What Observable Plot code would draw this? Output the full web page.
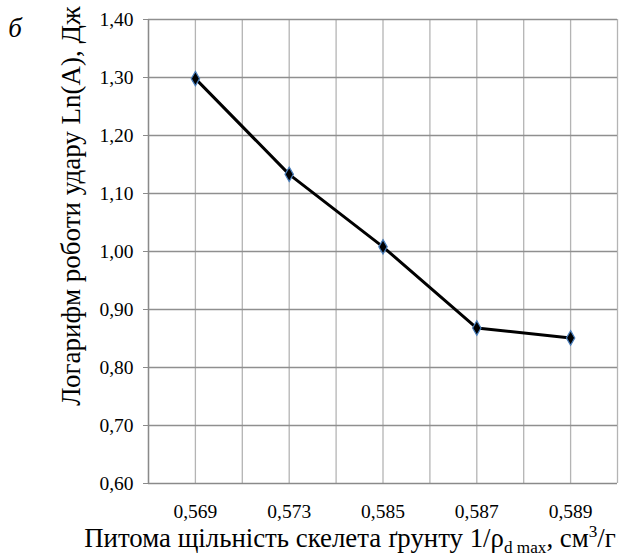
<!DOCTYPE html>
<html>
<head>
<meta charset="utf-8">
<script src="https://cdn.jsdelivr.net/npm/d3@7"></script>
<script src="https://cdn.jsdelivr.net/npm/@observablehq/plot@0.6"></script>
<style>
  html, body { margin: 0; padding: 0; background: #fff; }
  #chart svg { display: block; }
</style>
</head>
<body>
<div id="chart"></div>
<script>
// Data
const categories = ["0,569", "0,573", "0,585", "0,587", "0,589"];
const values = [1.298, 1.133, 1.008, 0.868, 0.851];
const yTicks = [0.6, 0.7, 0.8, 0.9, 1.0, 1.1, 1.2, 1.3, 1.4];
const panelLabel = "б";
const yTitle = "Логарифм роботи удару Ln(A), Дж";

const data = categories.map((c, i) => ({i, c, v: values[i]}));
const xGrid = d3.range(-0.5, categories.length, 0.5);
const fmt = d => d.toFixed(2).replace(".", ",");
const serif = "\"Liberation Serif\", \"Times New Roman\", serif";

const plot = Plot.plot({
  width: 628,
  height: 556,
  marginLeft: 148,
  marginRight: 11,
  marginTop: 19,
  marginBottom: 73,
  style: {fontFamily: serif, background: "#fff", color: "#000"},
  x: {domain: [-0.5, categories.length - 0.5]},
  y: {domain: [0.6, 1.4]},
  marks: [
    Plot.ruleX(xGrid, {stroke: "#b4b4b4", strokeWidth: 1.3}),
    Plot.ruleY(yTicks.slice(1), {stroke: "#8f8f8f", strokeWidth: 1.3}),
    Plot.ruleY([0.6], {stroke: "#8a8a8a", strokeWidth: 1.4}),
    Plot.ruleX([-0.5], {stroke: "#8a8a8a", strokeWidth: 1.4}),
    Plot.axisY({ticks: yTicks, tickSize: 5, tickPadding: 10, tickFormat: fmt,
      fontSize: 19.5, stroke: "#8a8a8a", fill: "#000", label: null}),
    Plot.axisX({ticks: d3.range(categories.length), tickSize: 0, tickPadding: 21,
      tickFormat: i => categories[i], fontSize: 19.5, fill: "#000", label: null}),
    Plot.line(data, {x: "i", y: "v", stroke: "#000", strokeWidth: 3}),
    Plot.dot(data, {x: "i", y: "v", symbol: "diamond", r: 4.4, fill: "#000",
      stroke: "#4a7ebb", strokeWidth: 1.2})
  ]
});

document.getElementById("chart").appendChild(plot);

const svg = d3.select(plot);

// Panel label
svg.append("text")
  .attr("x", 15).attr("y", 37)
  .style("font-family", serif).attr("font-style", "italic")
  .attr("font-size", 27).attr("fill", "#000")
  .text(panelLabel);

// Fit a title's font size so that its length matches the reference extent
function fit(sel, target, base) {
  const w = sel.node().getBBox().width;
  if (w > 0) sel.attr("font-size", base * target / w);
}

// Y axis title
const yt = svg.append("text")
  .attr("transform", "translate(80,206) rotate(-90)")
  .attr("text-anchor", "middle")
  .style("font-family", serif).attr("font-size", 24).attr("fill", "#000")
  .text(yTitle);
fit(yt, 400, 24);

// X axis title with subscript and superscript
const xt = svg.append("text")
  .attr("x", 350).attr("y", 547)
  .attr("text-anchor", "middle")
  .style("font-family", serif).attr("font-size", 24).attr("fill", "#000");
xt.append("tspan").text("Питома щільність скелета ґрунту 1/ρ");
xt.append("tspan").attr("font-size", "0.64em").attr("dy", "0.35em").text("d max");
xt.append("tspan").attr("dy", "-0.225em").text(", см");
xt.append("tspan").attr("font-size", "0.64em").attr("dy", "-0.58em").text("3");
xt.append("tspan").attr("dy", "0.37em").text("/г");
fit(xt, 532, 24);
</script>
</body>
</html>
